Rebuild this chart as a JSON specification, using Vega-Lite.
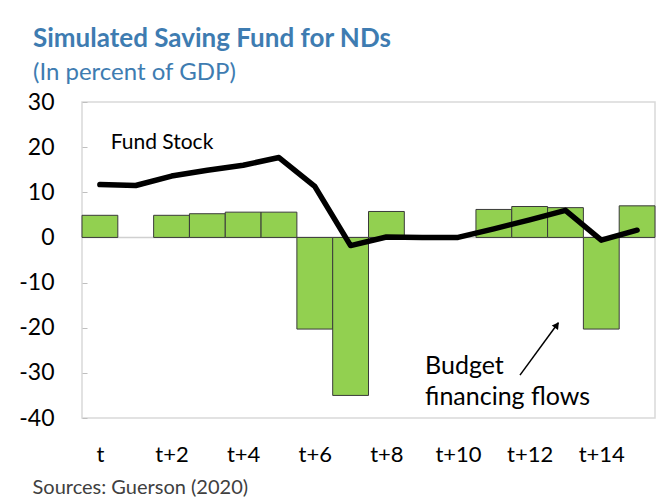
{
  "$schema": "https://vega.github.io/schema/vega-lite/v6.json",
  "width": 573,
  "height": 316,
  "autosize": "none",
  "padding": {"left": 82, "top": 102, "right": 8, "bottom": 82},
  "background": "white",
  "title": {
    "text": "Simulated Saving Fund for NDs",
    "subtitle": "(In percent of GDP)",
    "anchor": "start",
    "frame": "group",
    "dx": -49,
    "offset": 6,
    "font": "Lato",
    "fontSize": 26,
    "fontWeight": "bold",
    "color": "#3e7cb1",
    "subtitleFont": "Lato",
    "subtitleFontSize": 24,
    "subtitleColor": "#3e7cb1",
    "subtitlePadding": 9
  },
  "config": {
    "view": {"stroke": "#d9d9d9", "strokeWidth": 1.5},
    "axis": {"grid": false, "labelFont": "Lato", "titleFont": "Lato"}
  },
  "datasets": {
    "main": [
      {"period": 0, "flow": 4.9, "stock": 11.7},
      {"period": 1, "flow": null, "stock": 11.5},
      {"period": 2, "flow": 4.9, "stock": 13.6},
      {"period": 3, "flow": 5.25, "stock": 14.9},
      {"period": 4, "flow": 5.6, "stock": 16.0},
      {"period": 5, "flow": 5.6, "stock": 17.7},
      {"period": 6, "flow": -20.3, "stock": 11.3},
      {"period": 7, "flow": -35.0, "stock": -1.8},
      {"period": 8, "flow": 5.75, "stock": 0.1},
      {"period": 9, "flow": null, "stock": 0.0},
      {"period": 10, "flow": null, "stock": 0.0},
      {"period": 11, "flow": 6.2, "stock": 1.9},
      {"period": 12, "flow": 6.85, "stock": 3.9},
      {"period": 13, "flow": 6.6, "stock": 6.0},
      {"period": 14, "flow": -20.3, "stock": -0.6},
      {"period": 15, "flow": 7.0, "stock": 1.6}
    ]
  },
  "layer": [
    {
      "data": {"values": [{"z": 0}]},
      "mark": {"type": "rule", "color": "#d0d0d0", "strokeWidth": 1.5},
      "encoding": {
        "y": {"field": "z", "type": "quantitative"}
      }
    },
    {
      "data": {"name": "main"},
      "transform": [
        {"filter": "datum.flow != null"},
        {"calculate": "datum.period - 0.5", "as": "x0"},
        {"calculate": "datum.period + 0.5", "as": "x1"}
      ],
      "mark": {"type": "bar", "color": "#92d050", "stroke": "#3a3a3a", "strokeWidth": 1},
      "encoding": {
        "x": {
          "field": "x0",
          "type": "quantitative",
          "scale": {"domain": [-0.5, 15.5], "nice": false, "zero": false},
          "axis": {
            "values": [0, 2, 4, 6, 8, 10, 12, 14],
            "labelExpr": "datum.value == 0 ? 't' : 't+' + datum.value",
            "domain": false,
            "ticks": false,
            "labelPadding": 26,
            "labelFontSize": 22,
            "labelColor": "#000000",
            "title": "Sources: Guerson (2020)",
            "titleAnchor": "start",
            "titleAlign": "left",
            "titleX": -50,
            "titleY": 75,
            "titleBaseline": "alphabetic",
            "titleFontSize": 20,
            "titleFontWeight": "normal",
            "titleColor": "#404040"
          }
        },
        "x2": {"field": "x1"},
        "y": {
          "field": "flow",
          "type": "quantitative",
          "scale": {"domain": [-40, 30], "nice": false},
          "axis": {
            "values": [-40, -30, -20, -10, 0, 10, 20, 30],
            "labelExpr": "'' + datum.value",
            "domain": false,
            "ticks": true,
            "tickSize": -5,
            "tickColor": "#bfbfbf",
            "labelPadding": 33,
            "labelFontSize": 23,
            "labelColor": "#000000",
            "title": null
          }
        },
        "y2": {"datum": 0}
      }
    },
    {
      "data": {"name": "main"},
      "mark": {"type": "line", "color": "#000000", "strokeWidth": 5.5, "strokeCap": "round", "strokeJoin": "round"},
      "encoding": {
        "x": {"field": "period", "type": "quantitative"},
        "y": {"field": "stock", "type": "quantitative"}
      }
    },
    {
      "data": {"values": [{"ax": 0.3, "ay": 19.5, "label": "Fund Stock"}]},
      "mark": {"type": "text", "align": "left", "baseline": "alphabetic", "font": "Lato", "fontSize": 21, "color": "#000000"},
      "encoding": {
        "x": {"field": "ax", "type": "quantitative"},
        "y": {"field": "ay", "type": "quantitative"},
        "text": {"field": "label"}
      }
    },
    {
      "data": {"values": [
        {"ax": 9.08, "ay": -30.2, "label": "Budget"},
        {"ax": 9.08, "ay": -37.2, "label": "financing flows"}
      ]},
      "mark": {"type": "text", "align": "left", "baseline": "alphabetic", "font": "Lato", "fontSize": 25, "color": "#000000"},
      "encoding": {
        "x": {"field": "ax", "type": "quantitative"},
        "y": {"field": "ay", "type": "quantitative"},
        "text": {"field": "label"}
      }
    },
    {
      "data": {"values": [{"tx": 11.73, "ty": -30.5, "hx": 12.8, "hy": -18.9}]},
      "mark": {"type": "rule", "color": "#000000", "strokeWidth": 1.5},
      "encoding": {
        "x": {"field": "tx", "type": "quantitative"},
        "y": {"field": "ty", "type": "quantitative"},
        "x2": {"field": "hx"},
        "y2": {"field": "hy"}
      }
    },
    {
      "data": {"values": [{"hx": 12.76, "hy": -19.4}]},
      "mark": {"type": "point", "shape": "triangle-up", "filled": true, "color": "#000000", "size": 60, "angle": 36, "opacity": 1},
      "encoding": {
        "x": {"field": "hx", "type": "quantitative"},
        "y": {"field": "hy", "type": "quantitative"}
      }
    }
  ]
}
